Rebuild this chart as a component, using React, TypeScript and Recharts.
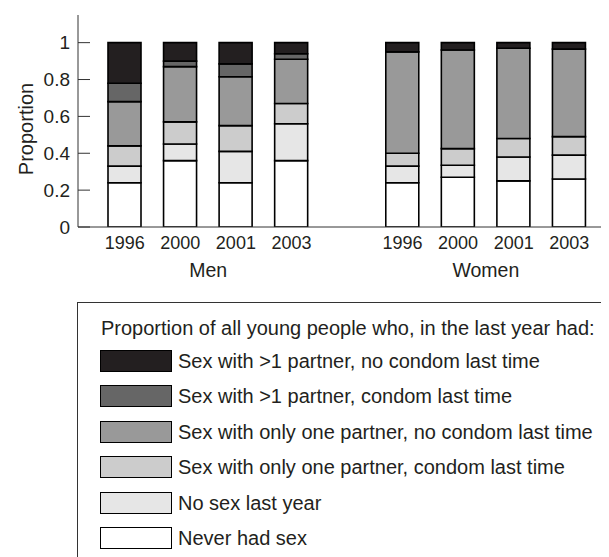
import React from 'react';
import { BarChart, Bar, XAxis, YAxis, ReferenceArea } from 'recharts';

const years = ['1996', '2000', '2001', '2003'];
const groups = ['Men', 'Women'];

const seriesKeys = ['never', 'noSex', 'oneCondom', 'oneNoCondom', 'multiCondom', 'multiNoCondom'];
const seriesNames = [
  'Never had sex',
  'No sex last year',
  'Sex with only one partner, condom last time',
  'Sex with only one partner, no condom last time',
  'Sex with >1 partner, condom last time',
  'Sex with >1 partner, no condom last time',
];
const seriesColors = ['#ffffff', '#e6e6e6', '#cccccc', '#999999', '#666666', '#231f20'];

// values per group (Men, Women), per year
const never = [[0.24, 0.36, 0.24, 0.36], [0.24, 0.27, 0.25, 0.26]];
const noSex = [[0.09, 0.09, 0.17, 0.2], [0.09, 0.065, 0.13, 0.13]];
const oneCondom = [[0.11, 0.12, 0.14, 0.11], [0.07, 0.09, 0.1, 0.1]];
const oneNoCondom = [[0.24, 0.3, 0.265, 0.24], [0.55, 0.535, 0.49, 0.475]];
const multiCondom = [[0.1, 0.03, 0.07, 0.03], [0, 0, 0, 0]];
const multiNoCondom = [[0.22, 0.1, 0.115, 0.06], [0.05, 0.04, 0.03, 0.035]];

const yTicks = [0, 0.2, 0.4, 0.6, 0.8, 1];
const legendTitle = 'Proportion of all young people who, in the last year had:';

const seriesValues = [never, noSex, oneCondom, oneNoCondom, multiCondom, multiNoCondom];

type Row = { [k: string]: string | number };
const data: Row[] = [];
groups.forEach((g, gi) => {
  if (gi > 0) data.push({ year: '', slot: `gap${gi}` });
  years.forEach((y, yi) => {
    const row: Row = { year: y, slot: `${g}-${y}` };
    seriesKeys.forEach((k, si) => {
      row[k] = seriesValues[si][gi][yi];
    });
    data.push(row);
  });
});

const FONT = 'Liberation Sans, Arial, sans-serif';
const TEXT = '#231f20';

const YearTick = (props: any) => {
  const { x, y, index } = props;
  return (
    <text x={x} y={y} dy="0.71em" textAnchor="middle" fontFamily={FONT} fontSize={18} fill={TEXT}>
      {data[index] ? data[index].year : ''}
    </text>
  );
};

const makeGroupLabel = (name: string) => (p: any) => {
  const vb = p.viewBox || {};
  const cx = vb.x + vb.width / 2;
  const cy = vb.y + vb.height + 43;
  return (
    <text x={cx} y={cy} textAnchor="middle" dominantBaseline="central" fontFamily={FONT} fontSize={19.5} fill={TEXT}>
      {name}
    </text>
  );
};

const App = () => {
  const chartW = 601;
  const chartH = 290;
  return (
    <div style={{ position: 'relative', width: 601, height: 549, fontFamily: FONT }}>
      <BarChart
        width={chartW}
        height={chartH}
        data={data}
        margin={{ top: 7, right: 4, bottom: 11, left: 8 }}
        barCategoryGap={0}
      >
        <XAxis
          dataKey="slot"
          type="category"
          padding={{ left: 19, right: 8 }}
          axisLine={{ stroke: '#333', strokeWidth: 1 }}
          tickLine={false}
          tickSize={0}
          tickMargin={9}
          height={60}
          interval={0}
          tick={<YearTick />}
        />
        <YAxis
          type="number"
          domain={[0, 1.15]}
          ticks={yTicks}
          width={62}
          allowDataOverflow
          axisLine={{ stroke: '#333', strokeWidth: 1 }}
          tickLine={{ stroke: '#333', strokeWidth: 1 }}
          tickSize={-12}
          tickMargin={20}
          tick={{ fontFamily: FONT, fontSize: 19, fill: TEXT }}
          label={(p: any) => {
            const vb = p.viewBox || {};
            const cx = (vb.x ?? 8) + 10;
            const cy = (vb.y ?? 7) + (vb.height ?? 212) / 2 + 8;
            return (
              <text
                x={cx}
                y={cy}
                transform={`rotate(-90, ${cx}, ${cy})`}
                textAnchor="middle"
                dominantBaseline="central"
                fontFamily={FONT}
                fontSize={20}
                fill={TEXT}
              >
                Proportion
              </text>
            );
          }}
        />
        {seriesKeys.map((k, i) => (
          <Bar
            key={k}
            dataKey={k}
            name={seriesNames[i]}
            stackId="a"
            fill={seriesColors[i]}
            stroke="#000"
            strokeWidth={1.6}
            barSize={33}
            isAnimationActive={false}
          />
        ))}
        {groups.map((g) => (
          <ReferenceArea
            key={g}
            x1={`${g}-${years[0]}`}
            x2={`${g}-${years[years.length - 1]}`}
            fill="none"
            fillOpacity={0}
            stroke="none"
            ifOverflow="visible"
            label={makeGroupLabel(g)}
          />
        ))}
      </BarChart>
      <div
        style={{
          position: 'absolute',
          left: 69,
          top: 294,
          width: 532,
          height: 255,
          borderLeft: '1px solid #333',
          borderTop: '1px solid #333',
          boxSizing: 'border-box',
          color: TEXT,
          fontSize: 20,
          overflow: 'hidden',
        }}
      >
        <div style={{ position: 'absolute', left: 23, top: 13, whiteSpace: 'nowrap', lineHeight: '24px' }}>
          {legendTitle}
        </div>
        {seriesKeys
          .map((k, i) => ({ k, i }))
          .reverse()
          .map(({ k, i }, row) => (
            <div key={k}>
              <div
                style={{
                  position: 'absolute',
                  left: 22,
                  top: 47 + row * 35.4,
                  width: 72,
                  height: 22,
                  background: seriesColors[i],
                  border: '1.5px solid #000',
                  boxSizing: 'border-box',
                }}
              />
              <div
                style={{
                  position: 'absolute',
                  left: 100,
                  top: 46 + row * 35.4,
                  lineHeight: '24px',
                  whiteSpace: 'nowrap',
                }}
              >
                {seriesNames[i]}
              </div>
            </div>
          ))}
      </div>
    </div>
  );
};

export default App;
